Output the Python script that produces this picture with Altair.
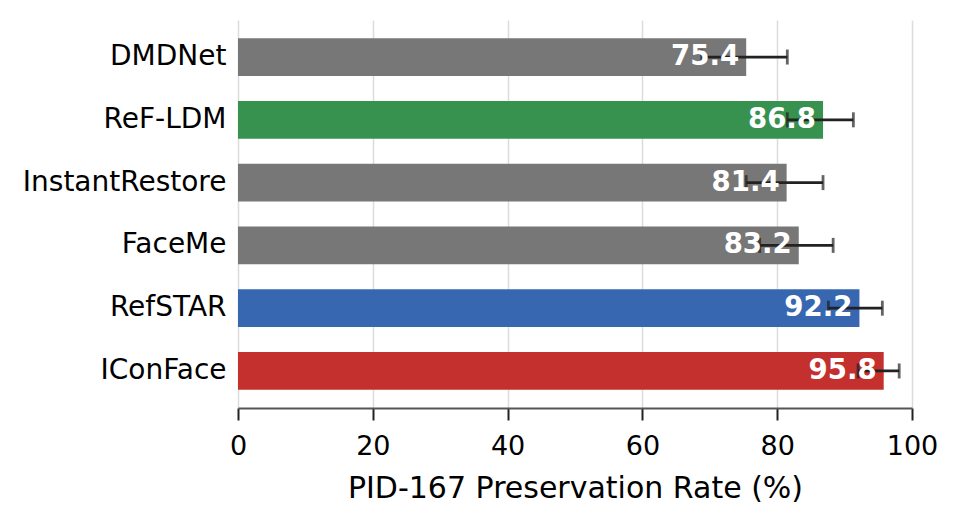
import altair as alt
import pandas as pd

methods = ["DMDNet", "ReF-LDM", "InstantRestore", "FaceMe", "RefSTAR", "IConFace"]
rates = [75.4, 86.8, 81.4, 83.2, 92.2, 95.8]
err_low = [68.8, 81.5, 75.4, 77.4, 87.6, 92.0]
err_high = [81.5, 91.3, 86.8, 88.3, 95.6, 98.1]

palette = ["#777777", "#37914f", "#3767b1", "#c4302d"]
groups = ["other", "ReF-LDM", "RefSTAR", "IConFace"]
group_of = [m if m in groups else "other" for m in methods]

df = pd.DataFrame({
    "method": methods,
    "rate": rates,
    "lo": err_low,
    "hi": err_high,
    "group": group_of,
    "label": [f"{v:.1f}" for v in rates],
})

FONT = "DejaVu Sans"
y_enc = alt.Y("method:N", sort=methods, title=None,
              scale=alt.Scale(paddingInner=0.4, paddingOuter=0.29))

base = alt.Chart(df)

bars = base.mark_bar().encode(
    y=y_enc,
    x=alt.X("rate:Q", title="PID-167 Preservation Rate (%)",
            scale=alt.Scale(domain=[0, 100], nice=False),
            axis=alt.Axis(values=[0, 20, 40, 60, 80, 100], format="d")),
    color=alt.Color("group:N", scale=alt.Scale(domain=groups, range=palette), legend=None),
)

rule = base.mark_rule(color="#222222", strokeWidth=2.8).encode(
    y=alt.Y("method:N", sort=methods),
    x="lo:Q", x2="hi:Q",
)
cap_lo = base.mark_tick(color="#222222", thickness=2.8, size=15).encode(
    y=alt.Y("method:N", sort=methods), x="lo:Q")
cap_hi = base.mark_tick(color="#222222", thickness=2.8, size=15).encode(
    y=alt.Y("method:N", sort=methods), x="hi:Q")

text = base.mark_text(align="right", baseline="middle", dx=-7, color="white",
                      fontWeight="bold", fontSize=27.6, font=FONT).encode(
    y=alt.Y("method:N", sort=methods), x="rate:Q", text="label:N")

chart = alt.layer(bars, rule, cap_lo, cap_hi, text).properties(
    width=674, height=388,
    autosize=alt.AutoSizeParams(type="none"),
    padding={"left": 230, "top": 12, "right": 36, "bottom": 108},
).configure_view(stroke=None).configure_axisX(
    grid=True, gridColor="#dcdcdc", gridWidth=1.5,
    domainColor="#555555", domainWidth=2,
    tickColor="#222222", tickWidth=2, tickSize=12,
    labelFont=FONT, labelFontSize=27, labelColor="black", labelPadding=13,
    labelFlush=False,
    titleFont=FONT, titleFontSize=30, titleFontWeight="normal", titleColor="black",
    titlePadding=14,
).configure_axisY(
    grid=False, domain=False, ticks=False, labelLimit=400,
    labelFont=FONT, labelFontSize=28, labelColor="black", labelPadding=12,
)

chart.save("out.html", embed_options={"renderer": "svg", "actions": False})
